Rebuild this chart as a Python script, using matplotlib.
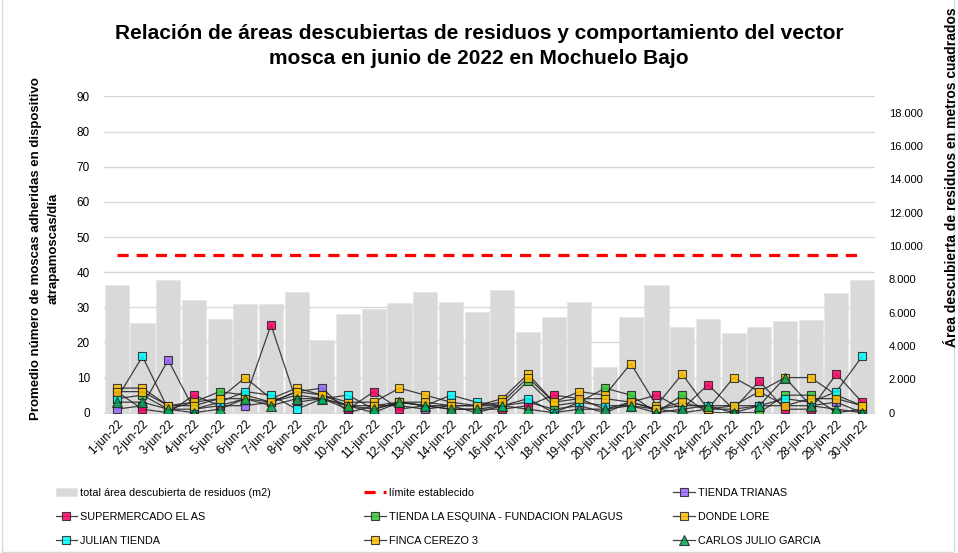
import matplotlib.pyplot as plt
from matplotlib.ticker import FuncFormatter

plt.rcParams['font.family'] = ['Liberation Sans', 'DejaVu Sans']

dias = ['%d-jun-22' % d for d in range(1, 31)]

# total área descubierta (m2), eje derecho
area = [7660, 5380, 7960, 6730, 5620, 6490, 6490, 7220, 4370, 5920,
        6190, 6600, 7240, 6660, 6040, 7380, 4810, 5750, 6640, 2750,
        5750, 7640, 5110, 5620, 4750, 5110, 5470, 5530, 7160, 7980]
limite = [45] * 30

trianas = [1, 2, 15, 1, 2, 2, 3, 6, 7, 0, 2, 2, 1, 2, 0, 2, 3, 1, 2, 0,
           3, 1, 0, 1, 1, 2, 2, 2, 3, 0]
el_as = [6, 1, 0, 5, 2, 4, 25, 3, 4, 1, 6, 1, 2, 1, 1, 1, 2, 5, 4, 1,
         3, 5, 1, 8, 1, 9, 1, 1, 11, 3]
esquina = [4, 5, 1, 3, 6, 5, 3, 5, 4, 2, 0, 3, 2, 2, 2, 2, 9, 2, 3, 7,
           5, 0, 5, 0, 0, 0, 5, 5, 0, 1]
donde_lore = [7, 7, 2, 3, 4, 10, 4, 7, 5, 3, 3, 7, 5, 3, 2, 4, 11, 3, 6, 5,
              14, 2, 11, 1, 10, 6, 10, 10, 5, 2]
julian = [4, 16, 1, 1, 3, 6, 5, 1, 4, 5, 1, 3, 2, 5, 3, 2, 4, 0, 3, 2,
          2, 1, 2, 2, 2, 2, 4, 3, 6, 16]
finca = [6, 6, 2, 2, 4, 4, 3, 6, 5, 2, 2, 3, 3, 2, 2, 3, 10, 3, 4, 4,
         3, 1, 3, 1, 2, 6, 2, 4, 4, 2]
carlos = [3, 3, 1, 0, 1, 4, 2, 4, 4, 2, 1, 3, 2, 1, 1, 2, 1, 0, 1, 1,
          2, 0, 1, 2, 0, 2, 10, 2, 1, 0]

series = [
    ('TIENDA TRIANAS', trianas, '#9966ff', 's'),
    ('SUPERMERCADO EL AS', el_as, '#ff0066', 's'),
    ('TIENDA LA ESQUINA - FUNDACION PALAGUS', esquina, '#33cc33', 's'),
    ('DONDE LORE', donde_lore, '#ffc000', 's'),
    ('JULIAN TIENDA', julian, '#00ffff', 's'),
    ('FINCA CEREZO 3', finca, '#ffc000', 's'),
    ('CARLOS JULIO GARCIA', carlos, '#00a651', '^'),
]

fig = plt.figure(figsize=(9.58, 5.53), dpi=100)
ax2 = fig.add_axes([0.1085, 0.2537, 0.8048, 0.5718])
ax = ax2.twinx()
ax.set_zorder(ax2.get_zorder() + 1)
ax.patch.set_visible(False)
x = list(range(30))

b = ax2.bar(x, area, width=0.94, color='#d9d9d9', edgecolor='#e6e6e6', linewidth=0.6,
            label='total área descubierta de residuos (m2)')
ax2.set_ylim(0, 18963)
ax2.set_yticks(range(0, 18001, 2000))
ax2.yaxis.set_major_formatter(FuncFormatter(lambda v, p: '{:,.0f}'.format(v).replace(',', '.')))
ax2.yaxis.tick_right()

handles = [b]
lim, = ax.plot(x, limite, color='#ff0000', linestyle=(0, (3.5, 2.5)), linewidth=2.3,
               label='límite establecido')
handles.append(lim)
for name, vals, col, mk in series:
    h, = ax.plot(x, vals, color='#222222', linewidth=0.9, alpha=0.85, marker=mk,
                 markersize=6 if mk == 's' else 7, markerfacecolor=col,
                 markeredgecolor='#222222', markeredgewidth=0.8, label=name)
    handles.append(h)

ax.yaxis.tick_left()
ax.set_ylim(0, 90)
ax.set_yticks(range(0, 91, 10))
ax.yaxis.grid(True, color='#d9d9d9', linewidth=1)
ax.set_axisbelow(True)
ax.set_xlim(-0.5, 29.5)
ax2.set_xlim(-0.5, 29.5)
ax2.set_xticks(x)
ax2.set_xticklabels(dias, rotation=45, ha='right', rotation_mode='anchor')
for a in (ax, ax2):
    a.tick_params(length=0, labelsize=8.5, pad=10)
    for s in a.spines.values():
        s.set_visible(False)
ax2.tick_params(axis='x', pad=4)
ax2.tick_params(axis='y', labelsize=8)
ax2.spines['bottom'].set_visible(True)
ax2.spines['bottom'].set_color('#d9d9d9')

fig.text(0.5, 0.917, 'Relación de áreas descubiertas de residuos y comportamiento del vector\n'
         'mosca en junio de 2022 en Mochuelo Bajo', ha='center', va='center',
         fontsize=15, fontweight='bold', linespacing=1.4)
fig.text(0.047, 0.55, 'Promedio número de moscas adheridas en dispositivo\natrapamoscas/día',
         rotation=90, ha='center', va='center', fontsize=9.5, fontweight='bold',
         linespacing=1.6)
fig.text(0.9935, 0.372, 'Área descubierta de residuos en metros cuadrados',
         rotation=90, ha='center', va='bottom', fontsize=10, fontweight='bold')

cols = [[handles[0], handles[3], handles[6]],
        [handles[1], handles[4], handles[7]],
        [handles[2], handles[5], handles[8]]]
for xpos, hs in zip([0.058, 0.380, 0.703], cols):
    fig.legend(handles=hs, labels=[h.get_label() for h in hs], loc='upper left',
               bbox_to_anchor=(xpos, 0.118), frameon=False, fontsize=7.8,
               handlelength=2.0, handletextpad=0.3, labelspacing=1.3,
               borderaxespad=0, borderpad=0)

fig.patches.append(plt.Rectangle((0.002, 0.002), 0.994, 1.2, transform=fig.transFigure,
                                 fill=False, edgecolor='#d9d9d9', linewidth=1))

fig.savefig('out.png', dpi=100)
